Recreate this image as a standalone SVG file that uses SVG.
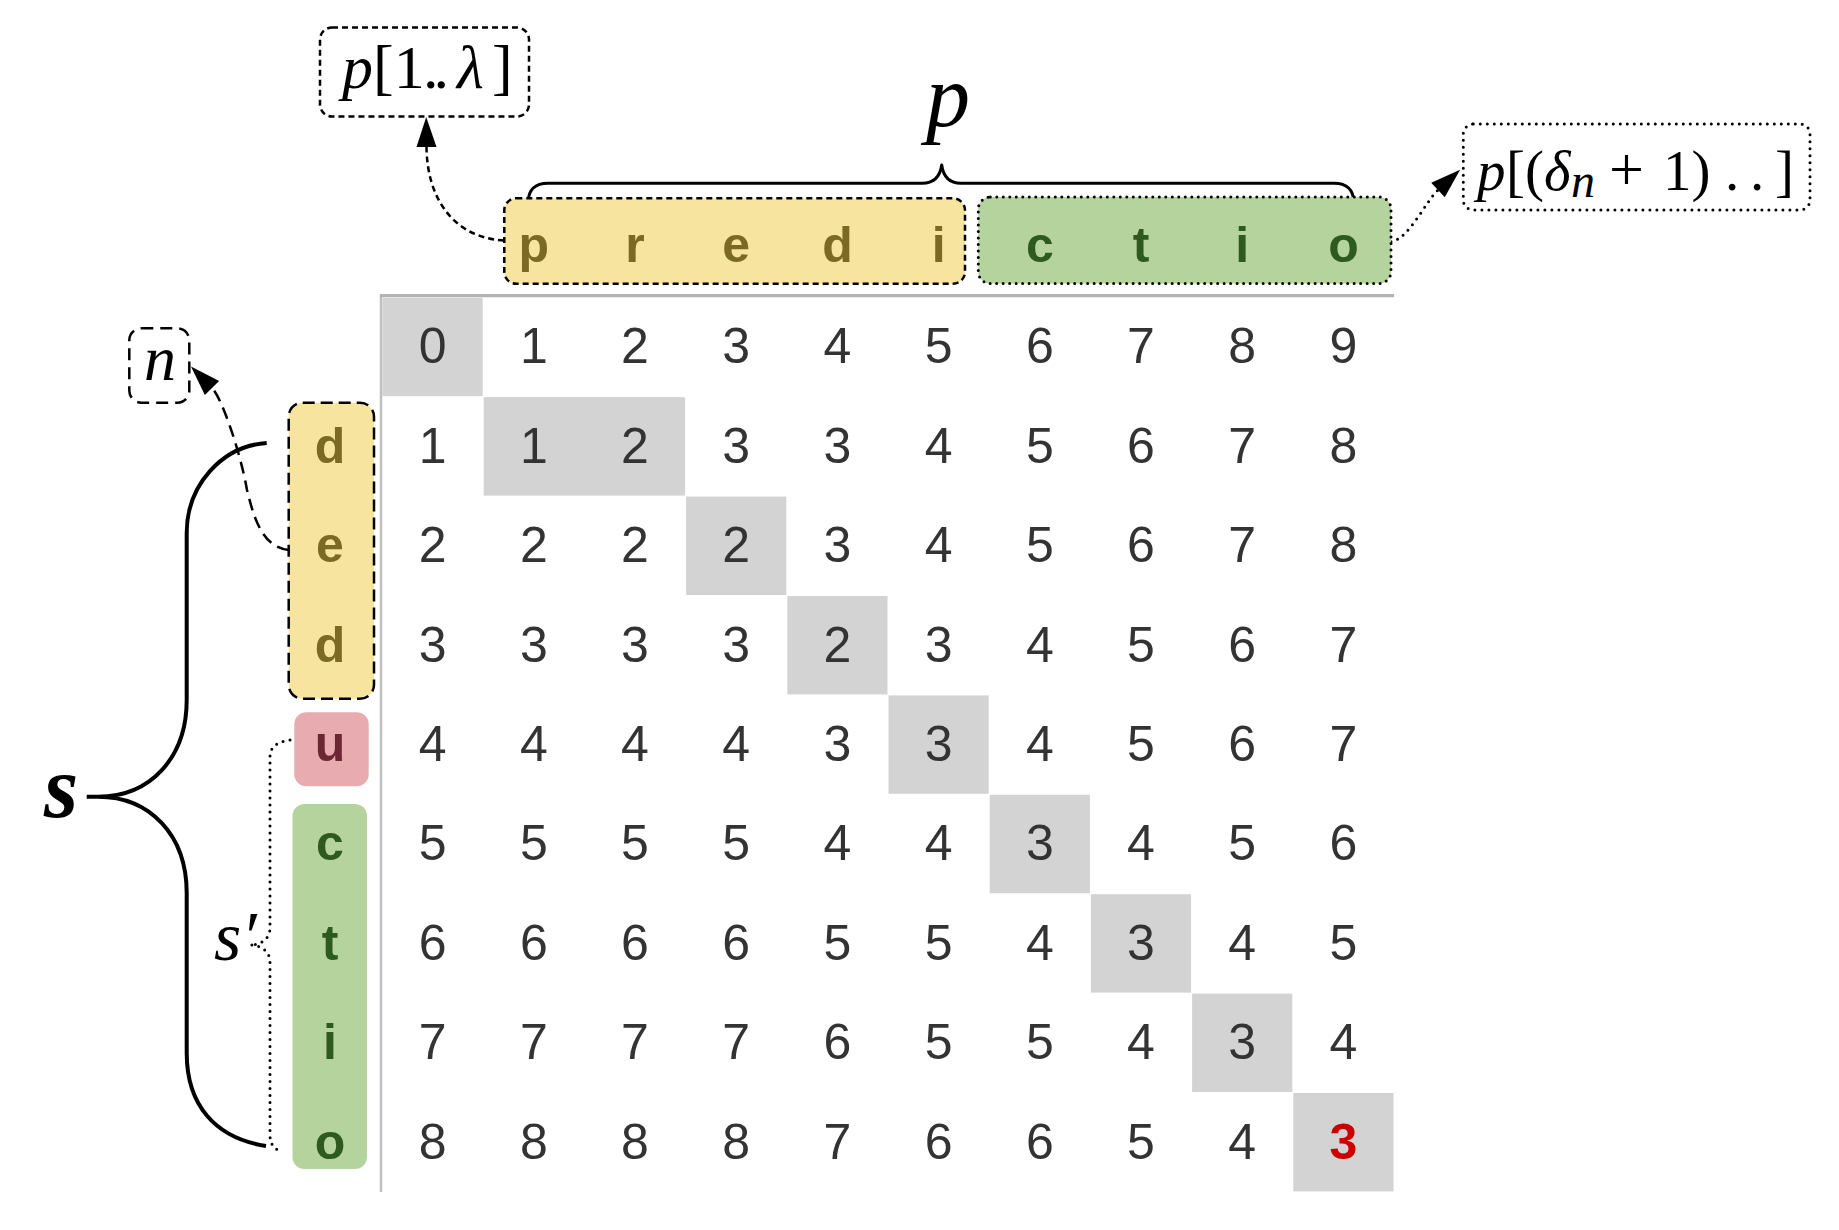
<svg xmlns="http://www.w3.org/2000/svg" width="1839" height="1230" viewBox="0 0 1839 1230">
<defs>
<style>
.num{font-family:"Liberation Sans",Arial,sans-serif;font-size:50px;fill:#333;text-anchor:middle}
.let{font-family:"Liberation Sans",Arial,sans-serif;font-size:50px;font-weight:bold;text-anchor:middle}
.ly{fill:#7b6a24}.lg{fill:#2f5a1f}.lp{fill:#6b2733}
.math{font-family:"Liberation Serif","Times New Roman",serif;fill:#000}
.it{font-style:italic}
.shade{fill:#d3d3d3}
.yel{fill:#f7e49e}.grn{fill:#b5d39d}.pnk{fill:#e8acb0}
.dashS{fill:none;stroke:#000;stroke-width:2.5;stroke-dasharray:6 4}
.dashL{fill:none;stroke:#000;stroke-width:2.5;stroke-dasharray:12 6}
.dot{fill:none;stroke:#000;stroke-width:3;stroke-dasharray:0 7;stroke-linecap:round}
.brace{fill:none;stroke:#000;stroke-linecap:butt;stroke-linejoin:round}
</style>
<marker id="ah" markerUnits="userSpaceOnUse" viewBox="0 0 30 20" markerWidth="30" markerHeight="20" refX="0" refY="10" orient="auto" overflow="visible">
<path d="M0,0 L30,10 L0,20 z" fill="#000"/>
</marker>
</defs>
<rect width="1839" height="1230" fill="#fff"/>

<!-- connectors -->
<g id="connectors">
<path class="brace" stroke-width="3" d="M528.3,201.7 C528.3,190 535,183.3 548,183.3 L922,183.3 C933,183.3 940,177 941.7,165 C943.4,177 950,183.3 961,183.3 L1334,183.3 C1347,183.3 1353.6,190 1353.6,201.7"/>
<path class="brace" stroke-width="4" d="M266.7,443 C222,446 186.7,485 186.7,533 L186.7,700 C186.7,758 150,796.7 98,796.7 L86.7,796.7 M98,796.7 C150,796.7 186.7,835 186.7,893 L186.7,1053 C186.7,1105 215,1138 266,1146"/>
<path class="dot" d="M290,740 C278,742 270,746 270,757 L270,928 C270,938 262,945 250,945 C262,945 270,952 270,962 L270,1135 C270,1145 275,1150 283,1152"/>
<path class="dashS" d="M504,240.5 C455,238 427,200 426.5,147" marker-end="url(#ah)"/>
<path fill="none" stroke="#000" stroke-width="2.5" stroke-dasharray="12 7" d="M288.7,550 C262,547 254,518 247,490 C241,455 222.5,398.7 212,388" marker-end="url(#ah)"/>
<path class="dot" d="M1391,241.7 C1408,240 1426,201 1438,190" marker-end="url(#ah)"/>
</g>

<!-- grid -->
<g id="matrix">
<rect class="shade" x="382.5" y="297.8" width="100.2" height="98.4"/>
<rect class="shade" x="483.7" y="397.2" width="201.4" height="98.4"/>
<rect class="shade" x="686.1" y="496.6" width="100.2" height="98.4"/>
<rect class="shade" x="787.3" y="596.0" width="100.2" height="98.4"/>
<rect class="shade" x="888.5" y="695.4" width="100.2" height="98.4"/>
<rect class="shade" x="989.7" y="794.8" width="100.2" height="98.4"/>
<rect class="shade" x="1090.9" y="894.2" width="100.2" height="98.4"/>
<rect class="shade" x="1192.1" y="993.6" width="100.2" height="98.4"/>
<rect class="shade" x="1293.3" y="1093.0" width="100.2" height="98.4"/>
<line x1="381" y1="294" x2="381" y2="1192" stroke="#c0c0c0" stroke-width="2.5"/>
<line x1="380" y1="295.6" x2="1394" y2="295.6" stroke="#b3b3b3" stroke-width="3.4"/>

<text class="num" x="432.6" y="363.3">0</text><text class="num" x="533.8" y="363.3">1</text><text class="num" x="635" y="363.3">2</text><text class="num" x="736.2" y="363.3">3</text><text class="num" x="837.4" y="363.3">4</text><text class="num" x="938.6" y="363.3">5</text><text class="num" x="1039.8" y="363.3">6</text><text class="num" x="1141" y="363.3">7</text><text class="num" x="1242.2" y="363.3">8</text><text class="num" x="1343.4" y="363.3">9</text>

<text class="num" x="432.6" y="462.7">1</text><text class="num" x="533.8" y="462.7">1</text><text class="num" x="635" y="462.7">2</text><text class="num" x="736.2" y="462.7">3</text><text class="num" x="837.4" y="462.7">3</text><text class="num" x="938.6" y="462.7">4</text><text class="num" x="1039.8" y="462.7">5</text><text class="num" x="1141" y="462.7">6</text><text class="num" x="1242.2" y="462.7">7</text><text class="num" x="1343.4" y="462.7">8</text>

<text class="num" x="432.6" y="562.1">2</text><text class="num" x="533.8" y="562.1">2</text><text class="num" x="635" y="562.1">2</text><text class="num" x="736.2" y="562.1">2</text><text class="num" x="837.4" y="562.1">3</text><text class="num" x="938.6" y="562.1">4</text><text class="num" x="1039.8" y="562.1">5</text><text class="num" x="1141" y="562.1">6</text><text class="num" x="1242.2" y="562.1">7</text><text class="num" x="1343.4" y="562.1">8</text>

<text class="num" x="432.6" y="661.5">3</text><text class="num" x="533.8" y="661.5">3</text><text class="num" x="635" y="661.5">3</text><text class="num" x="736.2" y="661.5">3</text><text class="num" x="837.4" y="661.5">2</text><text class="num" x="938.6" y="661.5">3</text><text class="num" x="1039.8" y="661.5">4</text><text class="num" x="1141" y="661.5">5</text><text class="num" x="1242.2" y="661.5">6</text><text class="num" x="1343.4" y="661.5">7</text>

<text class="num" x="432.6" y="760.9">4</text><text class="num" x="533.8" y="760.9">4</text><text class="num" x="635" y="760.9">4</text><text class="num" x="736.2" y="760.9">4</text><text class="num" x="837.4" y="760.9">3</text><text class="num" x="938.6" y="760.9">3</text><text class="num" x="1039.8" y="760.9">4</text><text class="num" x="1141" y="760.9">5</text><text class="num" x="1242.2" y="760.9">6</text><text class="num" x="1343.4" y="760.9">7</text>

<text class="num" x="432.6" y="860.3">5</text><text class="num" x="533.8" y="860.3">5</text><text class="num" x="635" y="860.3">5</text><text class="num" x="736.2" y="860.3">5</text><text class="num" x="837.4" y="860.3">4</text><text class="num" x="938.6" y="860.3">4</text><text class="num" x="1039.8" y="860.3">3</text><text class="num" x="1141" y="860.3">4</text><text class="num" x="1242.2" y="860.3">5</text><text class="num" x="1343.4" y="860.3">6</text>

<text class="num" x="432.6" y="959.7">6</text><text class="num" x="533.8" y="959.7">6</text><text class="num" x="635" y="959.7">6</text><text class="num" x="736.2" y="959.7">6</text><text class="num" x="837.4" y="959.7">5</text><text class="num" x="938.6" y="959.7">5</text><text class="num" x="1039.8" y="959.7">4</text><text class="num" x="1141" y="959.7">3</text><text class="num" x="1242.2" y="959.7">4</text><text class="num" x="1343.4" y="959.7">5</text>

<text class="num" x="432.6" y="1059.1">7</text><text class="num" x="533.8" y="1059.1">7</text><text class="num" x="635" y="1059.1">7</text><text class="num" x="736.2" y="1059.1">7</text><text class="num" x="837.4" y="1059.1">6</text><text class="num" x="938.6" y="1059.1">5</text><text class="num" x="1039.8" y="1059.1">5</text><text class="num" x="1141" y="1059.1">4</text><text class="num" x="1242.2" y="1059.1">3</text><text class="num" x="1343.4" y="1059.1">4</text>

<text class="num" x="432.6" y="1158.5">8</text><text class="num" x="533.8" y="1158.5">8</text><text class="num" x="635" y="1158.5">8</text><text class="num" x="736.2" y="1158.5">8</text><text class="num" x="837.4" y="1158.5">7</text><text class="num" x="938.6" y="1158.5">6</text><text class="num" x="1039.8" y="1158.5">6</text><text class="num" x="1141" y="1158.5">5</text><text class="num" x="1242.2" y="1158.5">4</text><text class="num" x="1343.4" y="1158.5" font-weight="bold" style="fill:#cc0000">3</text>
</g>

<!-- top string p -->
<g id="p-prefix">
<rect class="yel" x="504.3" y="198.3" width="460.7" height="85.5" rx="12"/>
<rect class="dashS" x="504.3" y="198.3" width="460.7" height="85.5" rx="12"/>
<text class="let ly" x="533.8" y="261.5">p</text>
<text class="let ly" x="635" y="261.5">r</text>
<text class="let ly" x="736.2" y="261.5">e</text>
<text class="let ly" x="837.4" y="261.5">d</text>
<text class="let ly" x="938.6" y="261.5">i</text>
</g>
<g id="p-suffix">
<rect class="grn" x="978.3" y="197" width="412.7" height="86.5" rx="12"/>
<rect class="dot" x="978.3" y="197" width="412.7" height="86.5" rx="12" style="stroke-dasharray:0 6.5"/>
<text class="let lg" x="1039.8" y="261.5">c</text>
<text class="let lg" x="1141" y="261.5">t</text>
<text class="let lg" x="1242.2" y="261.5">i</text>
<text class="let lg" x="1343.4" y="261.5">o</text>
</g>

<!-- left string s -->
<g id="s-prefix">
<rect class="yel" x="288.7" y="402.7" width="85.3" height="296" rx="14"/>
<rect class="dashL" x="288.7" y="402.7" width="85.3" height="296" rx="14"/>
<text class="let ly" x="330" y="462.7">d</text>
<text class="let ly" x="330" y="562.1">e</text>
<text class="let ly" x="330" y="661.5">d</text>
</g>
<g id="s-u">
<rect class="pnk" x="294.3" y="712.3" width="74.4" height="74" rx="12"/>
<text class="let lp" x="330" y="760.9">u</text>
</g>
<g id="s-suffix">
<rect class="grn" x="292.5" y="804" width="74.5" height="365" rx="12"/>
<text class="let lg" x="330" y="860.3">c</text>
<text class="let lg" x="330" y="959.7">t</text>
<text class="let lg" x="330" y="1059.1">i</text>
<text class="let lg" x="330" y="1158.5">o</text>
</g>

<!-- labels -->
<g id="label-p1lambda">
<rect class="dashS" x="320" y="27.5" width="209" height="89" rx="12"/>
<text class="math" font-size="62" y="88"><tspan class="it" x="342">p</tspan><tspan x="373">[1</tspan><tspan x="423" letter-spacing="-5">..</tspan><tspan class="it" x="457">λ</tspan><tspan x="492">]</tspan></text>
</g>
<g id="label-p">
<text class="math it" font-size="88" x="926" y="125.5">p</text>
</g>
<g id="label-psuffix">
<rect class="dot" x="1463.3" y="124" width="346.7" height="86" rx="10"/>
<text class="math" font-size="57" y="190"><tspan class="it" x="1477">p</tspan><tspan x="1506">[(</tspan><tspan class="it" x="1544">δ</tspan><tspan class="it" x="1571" font-size="48" y="197">n</tspan><tspan x="1609" y="190" font-size="62">+</tspan><tspan x="1663">1)</tspan><tspan x="1725">.</tspan><tspan x="1750">.</tspan><tspan x="1775">]</tspan></text>
</g>
<g id="label-n">
<rect fill="none" stroke="#000" stroke-width="2.5" stroke-dasharray="12 7" x="129.3" y="328.3" width="60" height="74.4" rx="12"/>
<text class="math it" font-size="64" x="144" y="380">n</text>
</g>
<g id="label-s">
<text class="math it" font-size="88" font-weight="bold" x="44" y="817">s</text>
</g>
<g id="label-sprime">
<text class="math it" font-size="70" x="214" y="960">s′</text>
</g>
</svg>
